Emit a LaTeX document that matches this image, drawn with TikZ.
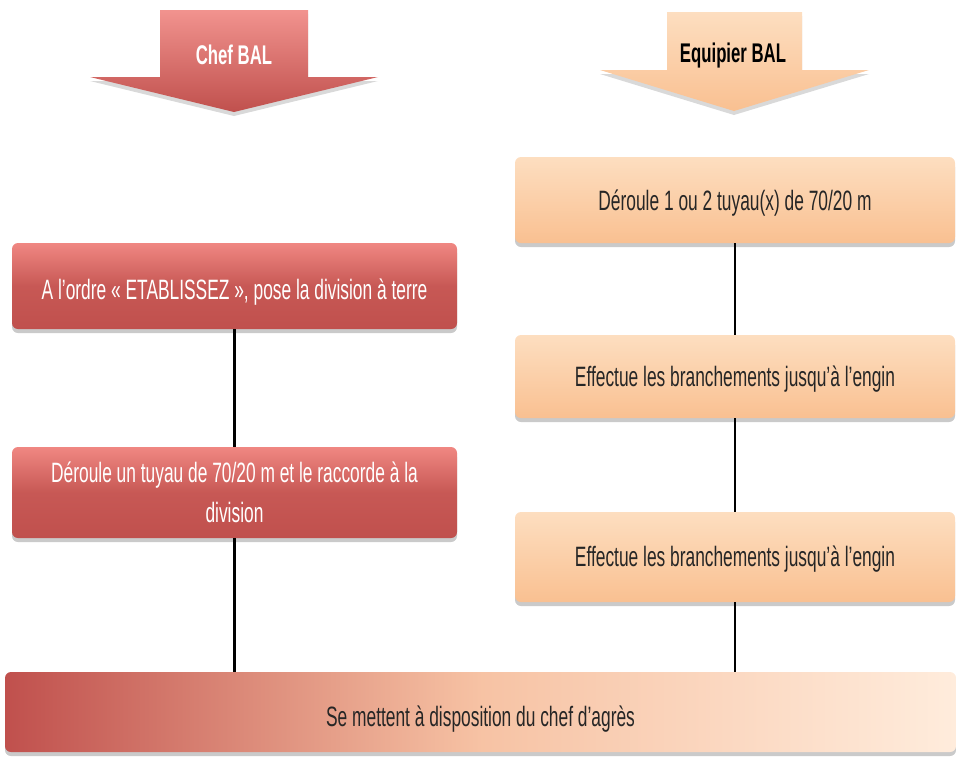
\documentclass[tikz,border=0pt]{standalone}
\usepackage{fontspec}
\setmainfont[FakeStretch=0.62]{Liberation Sans}
\usetikzlibrary{shadows,calc}
\definecolor{redtop}{RGB}{240,135,130}
\definecolor{redbot}{RGB}{192,80,77}
\definecolor{orgtop}{RGB}{253,222,192}
\definecolor{orgbot}{RGB}{249,192,145}
\definecolor{peach}{RGB}{248,205,170}
\definecolor{peachlight}{RGB}{255,236,220}
\tikzset{
  boxbase/.style={rounded corners=6pt, minimum height=86pt, align=center,
    font=\fontsize{28}{40}\selectfont, inner sep=0pt,
    drop shadow={shadow xshift=0pt, shadow yshift=-4pt, opacity=0.35, fill=black!60}},
  redbox/.style={boxbase, top color=redtop, bottom color=redbot, middle color=redbot!85!redtop,
    text=white, minimum width=445pt},
  orgbox/.style={boxbase, top color=orgtop, bottom color=orgbot, text=black!85,
    minimum width=440pt},
  lowtext/.style={text height=#1, text depth=6pt},
  arrowtxt/.style={font=\bfseries\fontsize{27}{30}\selectfont},
  connector/.style={line width=2.5pt, black}
}
\begin{document}
\begin{tikzpicture}[x=1pt,y=-1pt]
\useasboundingbox (0,0) rectangle (956,756);
% header arrows
\path[top color=redtop!90!white, bottom color=redbot, drop shadow={shadow xshift=0pt, shadow yshift=-4pt, opacity=0.3}]
  (160,10) -- (308,10) -- (308,77) -- (378,77) -- (234,112) -- (90,77) -- (160,77) -- cycle;
\node[arrowtxt, text=white] (chef) at (234,55) {Chef BAL};
\path[top color=orgtop, bottom color=orgbot, drop shadow={shadow xshift=0pt, shadow yshift=-4pt, opacity=0.3}]
  (667,12) -- (802,12) -- (802,70) -- (869,70) -- (734,111) -- (600,70) -- (667,70) -- cycle;
\node[arrowtxt, text=black] (equip) at (733,56) {Equipier BAL};
% boxes
\node[orgbox, lowtext=26.5pt] (R1) at (735,200) {Déroule 1 ou 2 tuyau(x) de 70/20 m};
\node[redbox, lowtext=32pt] (L1) at (234.5,286) {A l’ordre « ETABLISSEZ », pose la division à terre};
\node[orgbox, lowtext=26.5pt, minimum height=83pt] (R2) at (735,376.5) {Effectue les branchements jusqu’à l’engin};
\node[redbox, minimum height=91pt] (L2) at (234.5,492.5) {Déroule un tuyau de 70/20 m et le raccorde à la\\division};
\node[orgbox, lowtext=24.5pt, minimum height=90pt] (R3) at (735,557) {Effectue les branchements jusqu’à l’engin};
% bottom bar
\node[boxbase, lowtext=34pt, minimum width=951pt, minimum height=80pt, shading=axis, left color=redbot, right color=peachlight,
  middle color=peach!85!redtop, text=black!85] (B) at (480.5,712) {Se mettent à disposition du chef d’agrès};
% connectors
\draw[connector] (L1.south) -- (L2.north);
\draw[connector] (L2.south) -- (L2.south |- B.north);
\draw[connector] (R1.south) -- (R2.north);
\draw[connector] (R2.south) -- (R3.north);
\draw[connector] (R3.south) -- (R3.south |- B.north);
\end{tikzpicture}
\end{document}
